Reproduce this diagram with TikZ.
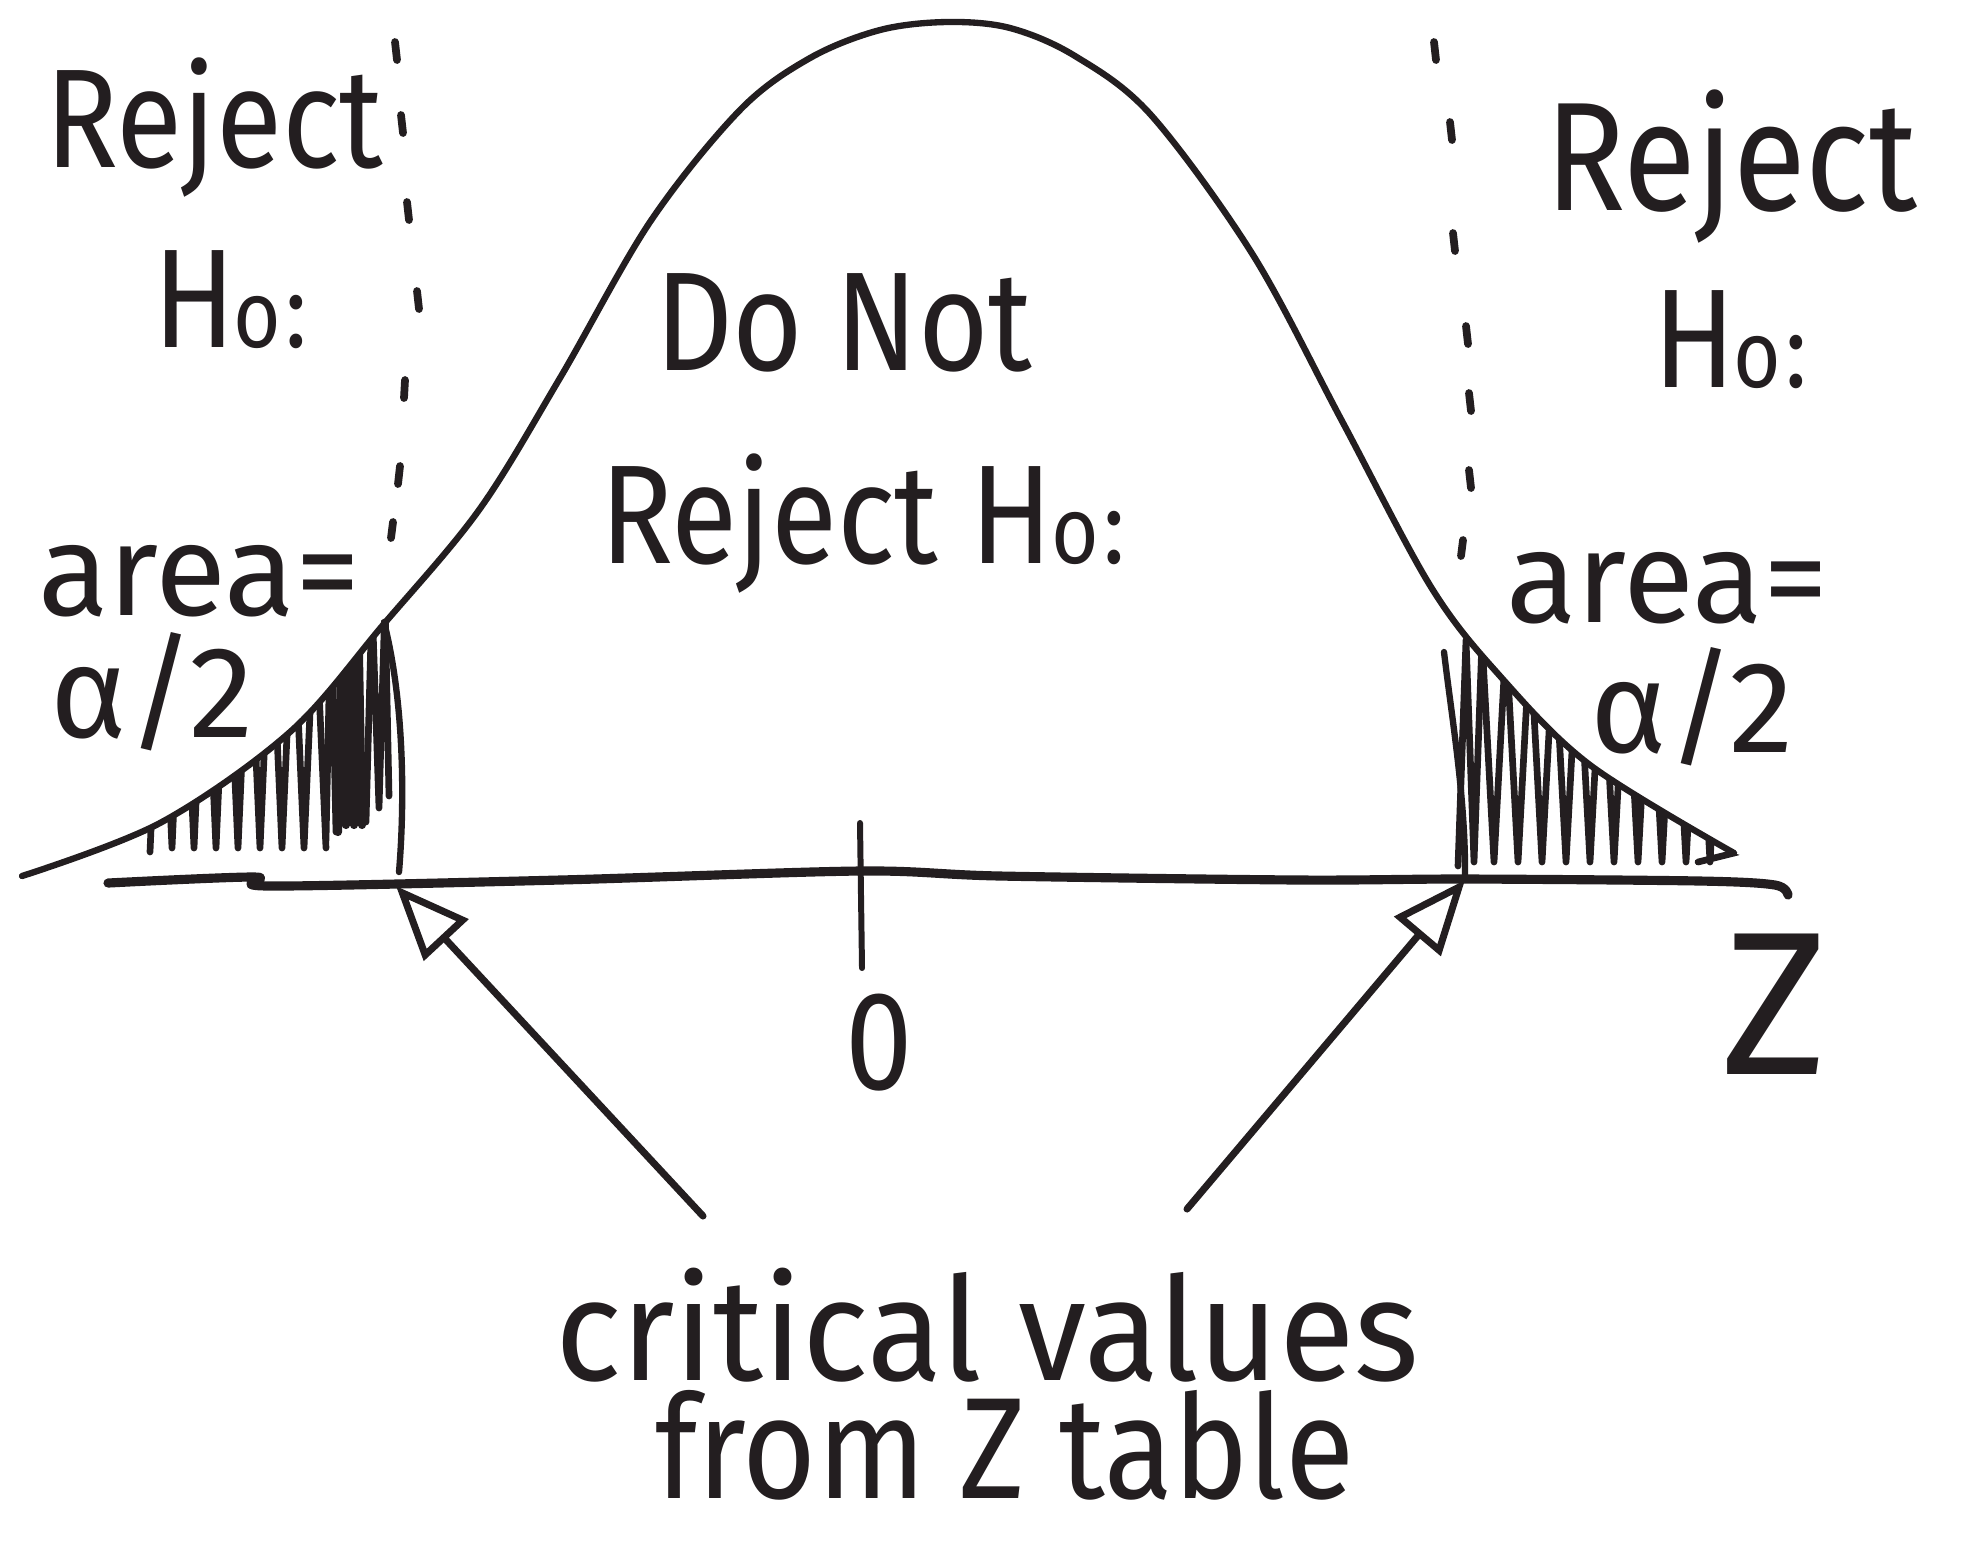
\documentclass[tikz,border=0pt]{standalone}
\usepackage{fontspec}
\setmainfont{Fira Sans}
\newfontfamily\hand{Fira Sans}[FakeStretch=0.86]
\newfontfamily\handw{Fira Sans}[FakeStretch=0.96]
\newfontfamily\handn{Fira Sans}[FakeStretch=0.88]
\usetikzlibrary{arrows.meta}
\definecolor{inkc}{RGB}{35,30,32}
\newcommand{\hnull}{H\kern-0.01em{\fontsize{27}{27}\selectfont o}\kern0.03em{\fontsize{30}{30}\selectfont :}}
\begin{document}
\begin{tikzpicture}[x=0.01cm,y=-0.01cm,
  ink/.style={draw=inkc,line cap=round,line join=round},
  hw/.style={inner sep=0pt,outer sep=0pt,text=inkc,font=\hand\fontsize{40}{44}\selectfont},
  critarrow/.style={ink,line width=2pt,-{Triangle[open,length=21pt,width=17pt,line width=2pt]}},
  dotline/.style={ink,line width=2.2pt},
  hatch/.style={ink,line width=1.9pt}]
\useasboundingbox (0,0) rectangle (1970,1544);
\fill[white] (0,0) rectangle (1970,1544);

% named points
\coordinate (lcrit) at (396,886);
\coordinate (rcrit) at (1465,880);
\coordinate (lstart) at (703,1216);
\coordinate (rstart) at (1187,1209);
\coordinate (tickT) at (860,823);
\coordinate (tickB) at (862,968);

% bell curve
\draw[ink,line width=1.8pt] plot[smooth,tension=0.55] coordinates {(22,876) (160,823) (290,732) (383,625) (479,510) (560,378) (650,222) (740,110) (810,58) (880,30) (947,22) (1010,28) (1075,56) (1151,115) (1253,255) (1342,421) (1431,587) (1500,676) (1590,765) (1734,853)};

% axis
\draw[ink,line width=2.6pt] plot[smooth] coordinates {(108,883) (255,877) (268,886) (560,880) (860,871) (1000,876) (1300,880) (1466,879) (1700,881) (1775,885) (1788,895)};
\draw[ink,line width=1.7pt] (tickT) -- (tickB);

% dotted critical lines
\draw[dotline] (395,42)--(397,60) (401,115)--(403,133) (407,202)--(409,220) (417,291)--(419,309) (405,380)--(404,398) (400,466)--(398,484) (393,522)--(391,538);
\draw[dotline] (1434,42)--(1436,60) (1450,122)--(1452,140) (1453,233)--(1455,251) (1466,326)--(1468,344) (1469,393)--(1471,411) (1469,470)--(1471,488) (1463,540)--(1461,556);

% left shaded tail
\draw[ink,line width=1.8pt] (384,622) .. controls (404,700) and (405,800) .. (399,872);
\begin{scope}
  \clip (140,500) rectangle (394,900);
  \clip plot[smooth,tension=0.55] coordinates {(22,876) (160,823) (290,732) (383,625) (479,510) (560,378)} -- (560,1000) -- (22,1000) -- cycle;
  \draw[hatch] (150,852) \foreach \x in {150,172,...,304} { -- (\x+11,600) -- (\x+22,848) };
  \draw[hatch] (326,840) -- (331,600) -- (336,832);
  \draw[hatch,line width=2.3pt] (338,832) \foreach \x in {338,346,354} { -- (\x+4,600) -- (\x+8,825) };
  \draw[hatch] (366,822) -- (372,600) -- (379,808) -- (385,600) -- (389,796);
\end{scope}

% right shaded tail
\draw[ink,line width=1.8pt] (1444,652) .. controls (1452,720) and (1466,800) .. (rcrit);
\begin{scope}
  \clip (1450,560) rectangle (1745,900);
  \clip plot[smooth,tension=0.55] coordinates {(1253,255) (1342,421) (1431,587) (1500,676) (1590,765) (1734,853)} -- (1760,862) -- (1760,1000) -- (1253,1000) -- cycle;
  \draw[hatch] (1458,866) -- (1466,640) -- (1474,862) -- (1482,640);
  \draw[hatch] (1482,640) \foreach \x in {1482,1506,...,1698} { -- (\x+12,862) -- (\x+24,640) };
  \draw[hatch] (1698,862) -- (1738,852);
\end{scope}

% arrows to critical values
\draw[critarrow] (lstart) -- (lcrit);
\draw[critarrow] (rstart) -- (rcrit);

% labels
\node[hw,anchor=base west] (rejL) at (45,167) {Reject};
\node[hw,anchor=base west] (hoL) at (153,347) {\hnull};
\node[hw,anchor=base west] (donot) at (655,370) {Do Not};
\node[hw,anchor=base west] (rejM) at (600,563) {Reject \hnull};
\node[hw,anchor=base west,font=\hand\fontsize{44}{48}\selectfont] (rejR) at (1545,210) {Reject};
\node[hw,anchor=base west] (hoR) at (1653,387) {\hnull};
\node[hw,anchor=base west,font=\fontsize{37}{40}\selectfont] (areaL) at (38,615) {area=};
\node[hw,anchor=base west,font=\fontsize{37}{40}\selectfont] (alphaL) at (50,737) {α/2};
\node[hw,anchor=base west,font=\fontsize{37}{40}\selectfont] (areaR) at (1506,622) {area=};
\node[hw,anchor=base west,font=\fontsize{37}{40}\selectfont] (alphaR) at (1590,752) {α/2};
\node[hw] (zero) at (879,1043) {0};
\node[hw,font=\fontsize{58}{60}\selectfont] (zlab) at (1775,1004) {Z};
\node[hw,anchor=south west,align=left,font=\fontsize{41}{33.6}\selectfont] (crit) at (555,1500) {{\handw critical values}\\\hspace*{28.5pt}{\handn from Z table}};
\end{tikzpicture}
\end{document}
